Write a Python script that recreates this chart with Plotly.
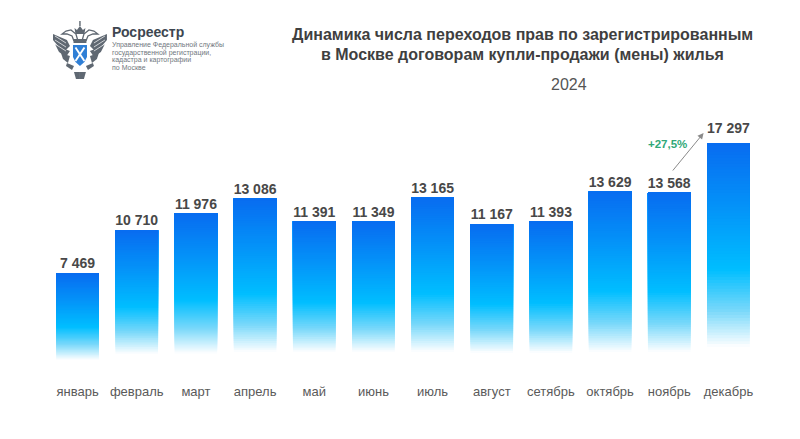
import plotly.graph_objects as go

months = ["январь", "февраль", "март", "апрель", "май", "июнь", "июль", "август", "сетябрь", "октябрь", "ноябрь", "декабрь"]
values = [7469, 10710, 11976, 13086, 11391, 11349, 13165, 11167, 11393, 13629, 13568, 17297]
value_labels = ["7 469", "10 710", "11 976", "13 086", "11 391", "11 349", "13 165", "11 167", "11 393", "13 629", "13 568", "17 297"]
# value at which each bar has faded out to white
fade_floor = [910, 1360, 1400, 1510, 1510, 1510, 1510, 1440, 1440, 1510, 1510, 1890]
# extra lift of each value label above its bar, in pixels
label_lift = [2, 2, 1, 1, 1, 1, 1, 2, 1, 1, 1, 7]

W, H = 800, 439
OX, OY = 8, 8   # the page's own body margin
ML, MR, MT, MB = 47.5 - OX, 41.5 + OX, 100 - OY, 67 + OY
PW, PH = W - ML - MR, H - MT - MB
SCALE = 0.01323
YMAX = PH / SCALE

def px(x): return (x - OX - ML) / PW
def py(y): return 1 - (y - OY - MT) / PH

stops = [(0.0, (8, 108, 240)), (0.30, (4, 145, 248)), (0.62, (0, 190, 255)), (0.82, (120, 216, 250)), (1.0, (255, 255, 255))]
def color_at(t):
    for (a, ca), (b, cb) in zip(stops, stops[1:]):
        if t <= b:
            f = (t - a) / (b - a)
            return "rgb(%d,%d,%d)" % tuple(round(p + (q - p) * f) for p, q in zip(ca, cb))
    return "rgb(255,255,255)"

fig = go.Figure()
N = 70
for j in range(N - 1, -1, -1):
    # painted from the bottom up, each strip reaching the bar top, so no seams appear
    tj = j / N
    bases = [fl + (v - fl) * (1 - (tj + 1 / N)) for v, fl in zip(values, fade_floor)]
    heights = [v - b for v, b in zip(values, bases)]
    fig.add_trace(go.Bar(x=months, y=heights, base=bases, width=0.72,
                         marker=dict(color=color_at(tj + 0.5 / N), line=dict(width=0)),
                         hoverinfo="skip", showlegend=False))

fig.add_trace(go.Scatter(x=months, y=[v + l / SCALE for v, l in zip(values, label_lift)], mode="text",
                         text=[s.replace(" ", "\u00a0") for s in value_labels],
                         textposition="top center", cliponaxis=False,
                         textfont=dict(family="Liberation Sans", size=14, color="#484848", weight="bold"),
                         hoverinfo="skip", showlegend=False))

ann = []
def text(x, y, s, size, color, bold=False, anchor="center", family="Liberation Sans"):
    ann.append(dict(xref="paper", yref="paper", x=px(x), y=py(y), text=("<b>%s</b>" % s) if bold else s,
                    showarrow=False, xanchor=anchor, yanchor="middle",
                    font=dict(family=family, size=size, color=color)))

text(523, 35, "Динамика числа переходов прав по зарегистрированным", 16, "#3f3f3f", True)
text(523, 55, "в Москве договорам купли-продажи (мены) жилья", 16, "#3f3f3f", True)
text(569, 84, "2024", 16, "#555555")
text(668, 144, "+27,5%", 11.5, "#2fa878", True)
text(110, 32, "Росреестр", 14, "#3d4650", True, "left")
for yy, s in zip([45, 52.5, 60, 67.5], ["Управление Федеральной службы", "государственной регистрации,", "кадастра и картографии", "по Москве"]):
    text(110, yy, s, 7, "#70777e", False, "left")

ann.append(dict(xref="paper", yref="paper", x=px(704), y=py(133), axref="pixel", ayref="pixel",
                ax=672 - 704, ay=172 - 133, showarrow=True, arrowhead=2, arrowsize=1.2, arrowwidth=1,
                arrowcolor="#8a8a8a", text=""))

# logo emblem, in page pixels
def path(points, close=True):
    d = "M" + " L".join("%.4f,%.4f" % (px(x), py(y)) for x, y in points)
    return d + (" Z" if close else "")

shapes = []
def poly(points, fill, line=None, lw=1):
    shapes.append(dict(type="path", xref="paper", yref="paper", path=path(points, fill is not None),
                       fillcolor=fill or "rgba(0,0,0,0)", line=dict(color=line or "rgba(0,0,0,0)", width=lw if line else 0)))

grey = "#5f6872"
c = 79.5
for s in (-1, 1):
    m = lambda pts: [(c + s * x, y) for x, y in pts]
    # wing feathers
    poly(m([(10, 46), (13, 40), (27, 34), (27, 40), (22, 46), (15, 51)]), grey)
    poly(m([(10, 51), (20, 47), (25, 44), (21, 52), (14, 57)]), grey)
    poly(m([(10, 56), (19, 53), (17, 59), (12, 63)]), grey)
    for y0 in (38, 42, 46):
        poly(m([(14, y0 + 5), (25, y0 - 2)]), None, "#ffffff", 0.7)
    # heads and necks
    poly(m([(2, 41), (4, 34), (9, 30), (14, 31), (18, 34), (13, 34), (8, 36), (6, 41)]), None, grey, 1.3)
    # legs and tail sides
    poly(m([(6, 66), (13, 63), (14, 66), (8, 70)]), grey)
    poly(m([(0, 72), (6, 72), (4, 79), (0, 79)]), grey)
# crown
poly([(75, 34), (74, 28), (76.5, 30), (79.5, 26), (82.5, 30), (85, 28), (84, 34)], grey)
poly([(78.8, 26), (78.8, 21), (80.2, 21), (80.2, 26)], grey)
poly([(73, 39), (86, 39), (86, 43), (73, 43)], grey)
# shield
shield = [(72.5, 45), (86.5, 45), (86.5, 57), (84, 62), (79.5, 66), (75, 62), (72.5, 57)]
poly(shield, "#2f7fd6")
poly([(75, 47.5), (84, 61)], None, "#ffffff", 1.9)
poly([(84, 47.5), (75, 61)], None, "#ffffff", 1.9)

fig.update_layout(
    width=W, height=H, autosize=False,
    margin=dict(l=ML, r=MR, t=MT, b=MB, autoexpand=False),
    paper_bgcolor="white", plot_bgcolor="white",
    barmode="overlay", showlegend=False,
    annotations=ann, shapes=shapes,
    xaxis=dict(type="category", categoryorder="array", categoryarray=months, range=[-0.5, 11.5],
               showgrid=False, zeroline=False, showline=False,
               ticks="outside", ticklen=7, tickcolor="rgba(0,0,0,0)",
               tickfont=dict(family="Liberation Sans", size=13, color="#5a5a5a")),
    yaxis=dict(range=[0, YMAX], visible=False, showgrid=False, zeroline=False),
)
fig.write_html("out.html")
